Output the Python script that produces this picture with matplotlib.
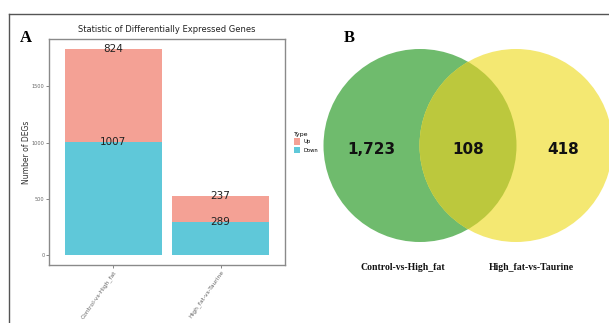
import matplotlib
matplotlib.use("Agg")
import matplotlib.pyplot as plt
from matplotlib.patches import Circle, Patch
from matplotlib.lines import Line2D
import numpy as np

# bar chart data
groups = ["Control-vs-High_fat", "High_fat-vs-Taurine"]
down = [1007, 289]
up = [824, 237]
yticks = [0, 500, 1000, 1500]

# venn data
venn_names = ["Control-vs-High_fat", "High_fat-vs-Taurine"]
venn_counts = ["1,723", "108", "418"]

W, H = 609, 323
fig = plt.figure(figsize=(W / 100, H / 100), dpi=100)
fig.patch.set_facecolor("white")

def px(x0, y0, x1, y1):
    # pixel box -> figure fraction rect
    return [x0 / W, 1 - y1 / H, (x1 - x0) / W, (y1 - y0) / H]

# ---- panel A ----
ax = fig.add_axes(px(49, 39, 285, 265))
x = np.arange(1, len(groups) + 1)
c_down = "#5FC8D9"
c_up = "#F4A195"
ax.bar(x, down, width=0.9, color=c_down)
ax.bar(x, up, width=0.9, bottom=down, color=c_up)
for i in range(len(groups)):
    ax.text(x[i], down[i], str(down[i]), ha="center", va="center", fontsize=7.5,
            family=["Liberation Sans Narrow", "DejaVu Sans"], color="#222222")
    ax.text(x[i], down[i] + up[i], str(up[i]), ha="center", va="center", fontsize=7.5,
            family=["Liberation Sans Narrow", "DejaVu Sans"], color="#222222")
top = max(d + u for d, u in zip(down, up))
ax.set_ylim(-0.05 * top, 1.05 * top)
ax.set_xlim(0.4, 2.6)
ax.set_yticks(yticks)
ax.set_yticklabels([str(t) for t in yticks], fontsize=3.6, color="#666666")
ax.set_xticks(x)
ax.set_xticklabels(groups, rotation=55, ha="right", rotation_mode="anchor", fontsize=4.3, color="#666666")
ax.tick_params(length=2, width=0.5, color="#555555", pad=1.2)
for s in ax.spines.values():
    s.set_color("#8a8a8a")
    s.set_linewidth(1)
ax.set_ylabel("Number of DEGs", fontsize=5.5, color="#333333")
ax.yaxis.set_label_coords(-0.078, 0.5)
ax.set_title("Statistic of Differentially Expressed Genes", fontsize=6, color="#222222", pad=5)

handles = [Patch(facecolor=c_up, label="Up"), Patch(facecolor=c_down, label="Down")]
leg = fig.legend(handles=handles, title="Type", loc="upper left",
                 bbox_to_anchor=(289 / W, 1 - 127 / H), frameon=False,
                 fontsize=3.8, title_fontsize=4.5, handlelength=1.2, handleheight=1.6,
                 handletextpad=0.6, labelspacing=0.3)
leg._legend_box.align = "left"

# ---- panel B ----
vx = fig.add_axes([0, 0, 1, 1], zorder=-1)
vx.set_xlim(0, W)
vx.set_ylim(H, 0)
vx.axis("off")
r = 96.5
cl = Circle((420, 145.5), r, facecolor="#6FBB6D", edgecolor="none")
cr = Circle((516, 145.5), r, facecolor="#F4E872", edgecolor="none")
vx.add_patch(cl)
vx.add_patch(cr)
ov = Circle((516, 145.5), r, facecolor="#BCC83D", edgecolor="none")
vx.add_patch(ov)
ov.set_clip_path(Circle((420, 145.5), r, transform=vx.transData))

for xx, t in zip([371, 468, 563], venn_counts):
    vx.text(xx, 149, t, ha="center", va="center", fontsize=11, fontweight="bold", color="#111111")
for xx, t in zip([403, 531], venn_names):
    vx.text(xx, 268, t, ha="center", va="center", fontsize=7, fontweight="bold",
            family="Liberation Serif", color="#111111")

# panel letters and frame lines
fig.text(20 / W, 1 - 38 / H, "A", fontsize=12, fontweight="bold", family="Liberation Serif", va="center")
fig.text(344 / W, 1 - 38 / H, "B", fontsize=12, fontweight="bold", family="Liberation Serif", va="center")
fig.add_artist(Line2D([9 / W, 1], [1 - 13.5 / H, 1 - 13.5 / H], color="#555555", lw=1.0))
fig.add_artist(Line2D([9 / W, 9 / W], [0, 1 - 13.5 / H], color="#555555", lw=1.0))

fig.savefig("out.png", dpi=100)
